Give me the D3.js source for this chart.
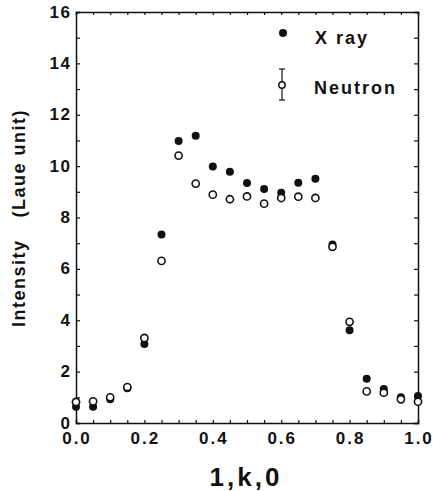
<!DOCTYPE html>
<html>
<head>
<meta charset="utf-8">
<script src="https://cdn.jsdelivr.net/npm/d3@7"></script>
<style>
  body { margin: 0; background: #fff; }
  svg { font-family: 'Liberation Sans', Arial, sans-serif; }
</style>
</head>
<body>
<div id="chart"></div>
<script>
// k positions along (1,k,0)
const kValues = [0, 0.05, 0.1, 0.15, 0.2, 0.25, 0.3, 0.35, 0.4, 0.45, 0.5,
  0.55, 0.6, 0.65, 0.7, 0.75, 0.8, 0.85, 0.9, 0.95, 1.0]
const xray = [0.63, 0.63, 0.92, 1.35, 3.08, 7.34, 10.98, 11.18, 9.99, 9.78, 9.34,
  9.11, 8.96, 9.35, 9.51, 6.95, 3.61, 1.72, 1.32, 1.0, 1.05]
const neutron = [0.82, 0.84, 1.0, 1.40, 3.31, 6.31, 10.41, 9.32, 8.89, 8.71, 8.82,
  8.54, 8.76, 8.81, 8.76, 6.86, 3.94, 1.23, 1.18, 0.92, 0.83]
const xTickLabels = ['0.0', '0.2', '0.4', '0.6', '0.8', '1.0']
const yTickLabels = ['0', '2', '4', '6', '8', '10', '12', '14', '16']

const width = 433
const height = 491
const margin = { top: 12, right: 15, bottom: 68, left: 76 }

const svg = d3.select('#chart')
  .append('svg')
  .attr('width', width)
  .attr('height', height)

const x = d3.scaleLinear().domain([0, 1]).range([margin.left, width - margin.right])
const y = d3.scaleLinear().domain([0, 16]).range([height - margin.bottom, margin.top])

const ink = '#111'
const xMinor = d3.range(0, 1.0001, 0.05)
const yMinor = d3.range(0, 17, 1)

// ticks on all four sides, pointing inward
const axBottom = svg.append('g').attr('transform', `translate(0,${y(0)})`)
  .call(d3.axisBottom(x).tickValues(xMinor).tickSize(-3).tickFormat(''))
const axTop = svg.append('g').attr('transform', `translate(0,${y(16)})`)
  .call(d3.axisTop(x).tickValues(xMinor).tickSize(-3).tickFormat(''))
const axLeft = svg.append('g').attr('transform', `translate(${x(0)},0)`)
  .call(d3.axisLeft(y).tickValues(yMinor).tickSize(-4).tickFormat(''))
const axRight = svg.append('g').attr('transform', `translate(${x(1)},0)`)
  .call(d3.axisRight(y).tickValues(yMinor).tickSize(-4).tickFormat(''))

;[axBottom, axTop, axLeft, axRight].forEach(g => {
  g.select('.domain').attr('stroke', ink).attr('stroke-width', 1.5)
  g.selectAll('.tick line').attr('stroke', ink).attr('stroke-width', 1.2)
})

// tick labels
svg.append('g').selectAll('text')
  .data(xTickLabels)
  .enter()
  .append('text')
  .attr('x', d => x(+d) + 1)
  .attr('y', 444)
  .attr('text-anchor', 'middle')
  .style('font-size', '17px')
  .style('font-weight', 'bold')
  .style('letter-spacing', '2px')
  .attr('fill', ink)
  .text(d => d)

svg.append('g').selectAll('text')
  .data(yTickLabels)
  .enter()
  .append('text')
  .attr('x', 71.5)
  .attr('y', d => y(+d) + 5.5)
  .attr('text-anchor', 'end')
  .style('font-size', '17px')
  .style('font-weight', 'bold')
  .style('letter-spacing', '1.5px')
  .attr('fill', ink)
  .text(d => d)

// axis titles
svg.append('text')
  .attr('x', 246)
  .attr('y', 486)
  .attr('text-anchor', 'middle')
  .style('font-size', '26px')
  .style('font-weight', 'bold')
  .style('letter-spacing', '3px')
  .attr('fill', ink)
  .text('1,k,0')

svg.append('text')
  .attr('transform', 'translate(25,327) rotate(-90)')
  .style('font-size', '18px')
  .style('font-weight', 'bold')
  .style('letter-spacing', '1.5px')
  .attr('fill', ink)
  .text('Intensity')
  .append('tspan')
  .attr('dx', 22)
  .text('(Laue unit)')

// data points: X ray filled, neutron open on top
svg.append('g').selectAll('circle')
  .data(kValues)
  .enter()
  .append('circle')
  .attr('cx', (d) => x(d))
  .attr('cy', (d, i) => y(xray[i]))
  .attr('r', 4)
  .attr('fill', ink)

svg.append('g').selectAll('circle')
  .data(kValues)
  .enter()
  .append('circle')
  .attr('cx', (d) => x(d))
  .attr('cy', (d, i) => y(neutron[i]))
  .attr('r', 3.6)
  .attr('fill', '#fff')
  .attr('stroke', ink)
  .attr('stroke-width', 1.6)

// legend
const legend = svg.append('g')
legend.append('circle').attr('cx', 283).attr('cy', 33).attr('r', 4).attr('fill', ink)
legend.append('text')
  .attr('x', 315).attr('y', 44)
  .style('font-size', '18px').style('font-weight', 'bold')
  .style('letter-spacing', '2px')
  .attr('fill', ink)
  .text('X ray')

legend.append('line').attr('x1', 282).attr('x2', 282).attr('y1', 69).attr('y2', 100)
  .attr('stroke', ink).attr('stroke-width', 1.2)
legend.append('line').attr('x1', 279).attr('x2', 285).attr('y1', 69).attr('y2', 69)
  .attr('stroke', ink).attr('stroke-width', 1.2)
legend.append('line').attr('x1', 279).attr('x2', 285).attr('y1', 100).attr('y2', 100)
  .attr('stroke', ink).attr('stroke-width', 1.2)
legend.append('circle').attr('cx', 282).attr('cy', 85).attr('r', 3.2)
  .attr('fill', '#fff').attr('stroke', ink).attr('stroke-width', 1.4)
legend.append('text')
  .attr('x', 314).attr('y', 94)
  .style('font-size', '18px').style('font-weight', 'bold')
  .style('letter-spacing', '2px')
  .attr('fill', ink)
  .text('Neutron')
</script>
</body>
</html>
